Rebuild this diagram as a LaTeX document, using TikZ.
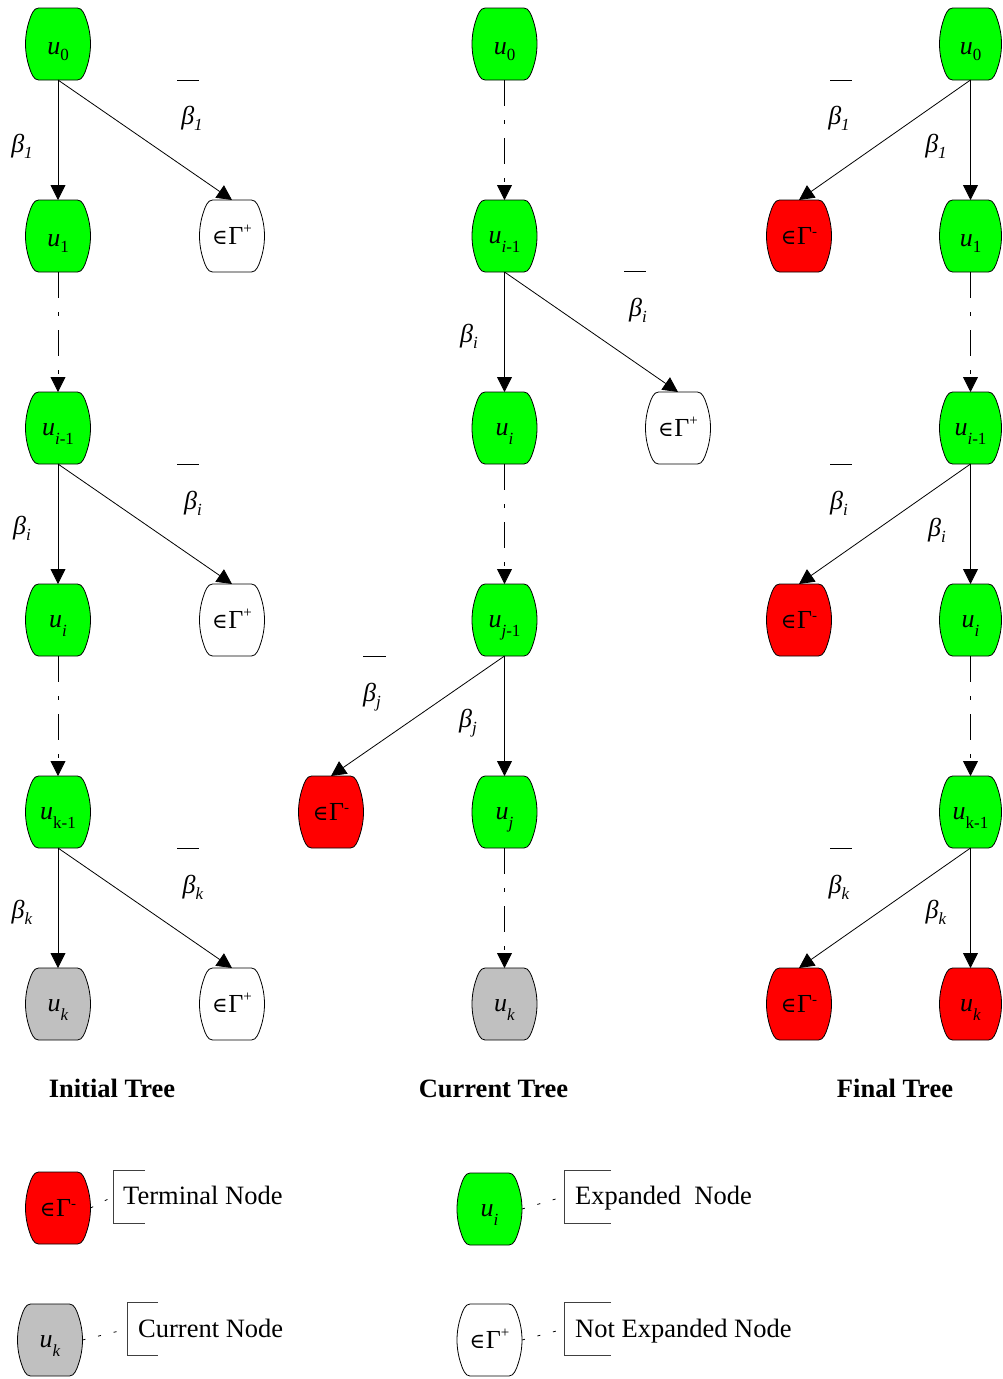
\documentclass[tikz,border=0pt]{standalone}
\usepackage{fontspec}
\setmainfont{Liberation Serif}
\newfontfamily\symserif{DejaVu Serif}
\usetikzlibrary{arrows.meta}

\newdimen\brlL \newdimen\brlR \newdimen\brlT \newdimen\brlB \newdimen\brlM
\makeatletter
% Barrel-shaped node: flat top and bottom, rounded corners, bulging sides
\pgfdeclareshape{barrel}{%
  \inheritsavedanchors[from=rectangle]%
  \inheritanchorborder[from=rectangle]%
  \inheritanchor[from=rectangle]{center}%
  \inheritanchor[from=rectangle]{north}%
  \inheritanchor[from=rectangle]{south}%
  \inheritanchor[from=rectangle]{east}%
  \inheritanchor[from=rectangle]{west}%
  \inheritanchor[from=rectangle]{north east}%
  \inheritanchor[from=rectangle]{north west}%
  \inheritanchor[from=rectangle]{south east}%
  \inheritanchor[from=rectangle]{south west}%
  \inheritanchor[from=rectangle]{base}%
  \inheritanchor[from=rectangle]{mid}%
  \backgroundpath{%
    \southwest \brlL=\pgf@x \brlB=\pgf@y
    \northeast \brlR=\pgf@x \brlT=\pgf@y
    \brlM=\brlT \advance\brlM by \brlB \divide\brlM by 2
    \pgfpathmoveto{\pgfpoint{\brlL+13pt}{\brlT}}%
    \pgfpathlineto{\pgfpoint{\brlR-13pt}{\brlT}}%
    % right side
    \pgfpathcurveto{\pgfpoint{\brlR-8pt}{\brlT}}{\pgfpoint{\brlR-5.7pt}{\brlT-7pt}}{\pgfpoint{\brlR-4pt}{\brlT-12pt}}%
    \pgfpathcurveto{\pgfpoint{\brlR-1.33pt}{\brlT-20pt}}{\pgfpoint{\brlR}{\brlM+8pt}}{\pgfpoint{\brlR}{\brlM}}%
    \pgfpathcurveto{\pgfpoint{\brlR}{\brlM-8pt}}{\pgfpoint{\brlR-1.33pt}{\brlB+20pt}}{\pgfpoint{\brlR-4pt}{\brlB+12pt}}%
    \pgfpathcurveto{\pgfpoint{\brlR-5.7pt}{\brlB+7pt}}{\pgfpoint{\brlR-8pt}{\brlB}}{\pgfpoint{\brlR-13pt}{\brlB}}%
    \pgfpathlineto{\pgfpoint{\brlL+13pt}{\brlB}}%
    % left side
    \pgfpathcurveto{\pgfpoint{\brlL+8pt}{\brlB}}{\pgfpoint{\brlL+5.7pt}{\brlB+7pt}}{\pgfpoint{\brlL+4pt}{\brlB+12pt}}%
    \pgfpathcurveto{\pgfpoint{\brlL+1.33pt}{\brlB+20pt}}{\pgfpoint{\brlL}{\brlM-8pt}}{\pgfpoint{\brlL}{\brlM}}%
    \pgfpathcurveto{\pgfpoint{\brlL}{\brlM+8pt}}{\pgfpoint{\brlL+1.33pt}{\brlT-20pt}}{\pgfpoint{\brlL+4pt}{\brlT-12pt}}%
    \pgfpathcurveto{\pgfpoint{\brlL+5.7pt}{\brlT-7pt}}{\pgfpoint{\brlL+8pt}{\brlT}}{\pgfpoint{\brlL+13pt}{\brlT}}%
    \pgfpathclose
  }%
}
\makeatother

\definecolor{expgreen}{HTML}{00FF00}
\definecolor{termred}{HTML}{FF0000}
\definecolor{curgray}{HTML}{C0C0C0}

% text helpers
\newcommand\subsz{\fontsize{17}{17}\selectfont}
\newcommand\nodetext[2]{\raisebox{-#1}[0pt][0pt]{#2}}
\newcommand\udig[1]{\nodetext{10pt}{\textit{u}\raisebox{-6pt}{\subsz #1}}}
\newcommand\ulet[1]{\nodetext{7pt}{\textit{u}\raisebox{-9pt}{\subsz #1}}}
\newcommand\elem{{\symserif\fontsize{21}{21}\selectfont ∈}\kern0.5pt}
\newcommand\gplus{\nodetext{8.5pt}{\elem Γ\raisebox{11pt}{\fontsize{15}{15}\selectfont +}}}
\newcommand\gminus{\nodetext{8.5pt}{\elem Γ\raisebox{8pt}{\fontsize{15}{15}\selectfont -}}}
\newcommand\bet[1]{\textit{β}\raisebox{-6pt}{\subsz\textit{#1}}}

\tikzset{
  tnode/.style={shape=barrel, draw, line width=0.8pt, minimum width=65pt,
    minimum height=72pt, inner sep=0pt, outer sep=0pt,
    font=\fontsize{26}{26}\selectfont},
  expnode/.style={tnode, fill=expgreen},
  termnode/.style={tnode, fill=termred},
  curnode/.style={tnode, fill=curgray},
  opennode/.style={tnode, fill=white},
  narrow/.style={minimum width=62pt},
  arr/.style={draw, line width=0.8pt, -{Triangle[width=15pt,length=15pt]}},
  skiparr/.style={arr, dash pattern=on 26pt off 14pt on 4pt off 14pt},
  lbl/.style={inner sep=0pt, font=\fontsize{26}{26}\selectfont},
  barline/.style={line width=0.9pt},
  title/.style={inner sep=0pt, anchor=base, font=\fontsize{26.5}{26.5}\selectfont\bfseries},
  legtext/.style={inner sep=0pt, anchor=base west, font=\fontsize{26.5}{26.5}\selectfont},
  bracket/.style={line width=0.8pt, black!75},
  legdash/.style={line width=0.8pt, dash pattern=on 3pt off 13pt},
}

\begin{document}
\begin{tikzpicture}[x=1pt, y=-1pt]
\useasboundingbox (0,0) rectangle (1002,1379);

% ---------- initial tree ----------
\node[expnode]  (a0)  at (58,44)   {\udig{0}};
\node[expnode]  (a1)  at (58,236)  {\udig{1}};
\node[expnode]  (ai1) at (58,428)  {\ulet{\textit{i}-1}};
\node[expnode]  (ai)  at (58,620)  {\ulet{\textit{i}}};
\node[expnode]  (ak1) at (58,812)  {\ulet{k-1}};
\node[curnode]  (ak)  at (58,1004) {\ulet{\textit{k}}};
\node[opennode] (ag1) at (232,236)  {\gplus};
\node[opennode] (ag2) at (232,620)  {\gplus};
\node[opennode] (ag3) at (232,1004) {\gplus};

\draw[arr] (a0.south) -- (a1.north);
\draw[arr] (a0.south) -- (ag1.north);
\draw[skiparr] (a1.south) -- (ai1.north);
\draw[arr] (ai1.south) -- (ai.north);
\draw[arr] (ai1.south) -- (ag2.north);
\draw[skiparr] (ai.south) -- (ak1.north);
\draw[arr] (ak1.south) -- (ak.north);
\draw[arr] (ak1.south) -- (ag3.north);

\node[lbl] (la1) at (22,146)  {\bet{1}};
\node[lbl] (la2) at (192,118) {\bet{1}};
\draw[barline] (177,80) -- (199,80);
\node[lbl] (la3) at (22,528)  {\bet{i}};
\node[lbl] (la4) at (193,503) {\bet{i}};
\draw[barline] (177,464) -- (199,464);
\node[lbl] (la5) at (22,912)  {\bet{k}};
\node[lbl] (la6) at (193,887) {\bet{k}};
\draw[barline] (177,848) -- (199,848);

% ---------- current tree ----------
\node[expnode]  (b0)  at (504.5,44)   {\udig{0}};
\node[expnode]  (bi1) at (504.5,236)  {\ulet{\textit{i}-1}};
\node[expnode]  (bi)  at (504.5,428)  {\ulet{\textit{i}}};
\node[expnode]  (bj1) at (504.5,620)  {\ulet{\textit{j}-1}};
\node[expnode]  (bj)  at (504.5,812)  {\ulet{\textit{j}}};
\node[curnode]  (bk)  at (504.5,1004) {\ulet{\textit{k}}};
\node[opennode] (bg1) at (678,428) {\gplus};
\node[termnode] (bg2) at (331,812) {\gminus};

\draw[skiparr] (b0.south) -- (bi1.north);
\draw[arr] (bi1.south) -- (bi.north);
\draw[arr] (bi1.south) -- (bg1.north);
\draw[skiparr] (bi.south) -- (bj1.north);
\draw[arr] (bj1.south) -- (bj.north);
\draw[arr] (bj1.south) -- (bg2.north);
\draw[skiparr] (bj.south) -- (bk.north);

\node[lbl] (lb1) at (469,336) {\bet{i}};
\node[lbl] (lb2) at (638,310) {\bet{i}};
\draw[barline] (624,271) -- (646,271);
\node[lbl] (lb3) at (372,697) {\bet{j}};
\draw[barline] (363,656) -- (386,656);
\node[lbl] (lb4) at (468,723) {\bet{j}};

% ---------- final tree ----------
\node[expnode, narrow]  (c0)  at (970.5,44)   {\udig{0}};
\node[expnode, narrow]  (c1)  at (970.5,236)  {\udig{1}};
\node[expnode, narrow]  (ci1) at (970.5,428)  {\ulet{\textit{i}-1}};
\node[expnode, narrow]  (ci)  at (970.5,620)  {\ulet{\textit{i}}};
\node[expnode, narrow]  (ck1) at (970.5,812)  {\ulet{k-1}};
\node[termnode, narrow] (ck)  at (970.5,1004) {\ulet{\textit{k}}};
\node[termnode] (cg1) at (799,236)  {\gminus};
\node[termnode] (cg2) at (799,620)  {\gminus};
\node[termnode] (cg3) at (799,1004) {\gminus};

\draw[arr] (c0.south) -- (c1.north);
\draw[arr] (c0.south) -- (cg1.north);
\draw[skiparr] (c1.south) -- (ci1.north);
\draw[arr] (ci1.south) -- (ci.north);
\draw[arr] (ci1.south) -- (cg2.north);
\draw[skiparr] (ci.south) -- (ck1.north);
\draw[arr] (ck1.south) -- (ck.north);
\draw[arr] (ck1.south) -- (cg3.north);

\node[lbl] (lc1) at (839,118) {\bet{1}};
\draw[barline] (830,80) -- (852,80);
\node[lbl] (lc2) at (936,146) {\bet{1}};
\node[lbl] (lc3) at (839,503) {\bet{i}};
\draw[barline] (830,464) -- (852,464);
\node[lbl] (lc4) at (937,530) {\bet{i}};
\node[lbl] (lc5) at (839,887) {\bet{k}};
\draw[barline] (830,848) -- (852,848);
\node[lbl] (lc6) at (936,912) {\bet{k}};

% ---------- titles ----------
\node[title] (t1) at (112,1097)   {Initial Tree};
\node[title] (t2) at (493.5,1097) {Current Tree};
\node[title] (t3) at (895,1097)   {Final Tree};

% ---------- legend ----------
\node[termnode] (lg1) at (58,1208)    {\gminus};
\node[curnode]  (lg2) at (50,1340)    {\ulet{\textit{k}}};
\node[expnode]  (lg3) at (489.5,1209) {\ulet{\textit{i}}};
\node[opennode] (lg4) at (489.5,1340) {\gplus};

\coordinate (br1) at (113,1196.5);
\coordinate (br2) at (127,1329);
\coordinate (br3) at (564,1196.5);
\coordinate (br4) at (564,1329);

\draw[bracket] (br1) ++(32,-26.5) -- ++(-32,0) -- ++(0,53) -- ++(32,0);
\draw[bracket] (br2) ++(31,-26.5) -- ++(-31,0) -- ++(0,53) -- ++(31,0);
\draw[bracket] (br3) ++(47,-26.5) -- ++(-47,0) -- ++(0,53) -- ++(47,0);
\draw[bracket] (br4) ++(47,-26.5) -- ++(-47,0) -- ++(0,53) -- ++(47,0);

\draw[legdash] (lg1.east) -- (br1);
\draw[legdash] (lg2.east) -- (br2);
\draw[legdash] (lg3.east) -- (br3);
\draw[legdash] (lg4.east) -- (br4);

\node[legtext] (lt1) at (123,1204) {Terminal Node};
\node[legtext] (lt2) at (138,1337) {Current Node};
\node[legtext] (lt3) at (575,1204) {Expanded\ \ Node};
\node[legtext] (lt4) at (575,1337) {Not Expanded Node};
\end{tikzpicture}
\end{document}
